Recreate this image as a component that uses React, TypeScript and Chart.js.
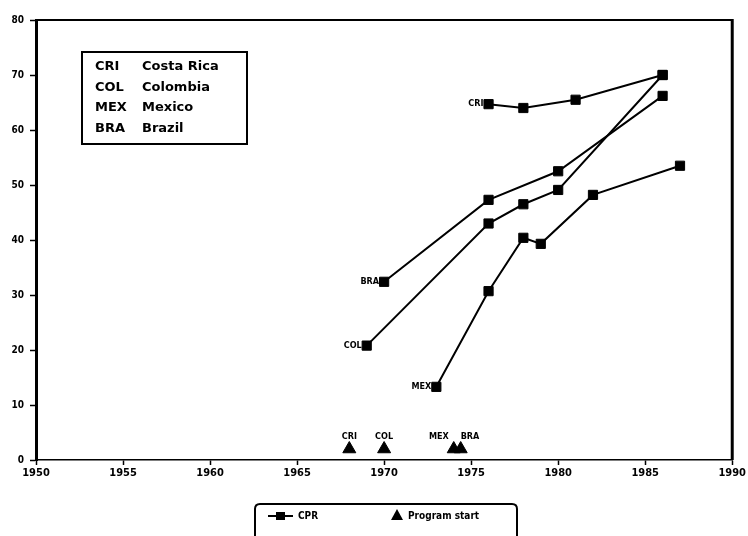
import React, { useEffect, useRef } from "react";
import { Chart, registerables } from "chart.js";

Chart.register(...registerables);

// ---- data ----
const countryCodes = ["CRI", "COL", "MEX", "BRA"];
const countryNames = ["Costa Rica", "Colombia", "Mexico", "Brazil"];

const criYears = [1976, 1978, 1981, 1986];
const criCpr = [64.7, 64.0, 65.5, 70.0];

const colYears = [1969, 1976, 1978, 1980, 1986];
const colCpr = [20.8, 43.0, 46.5, 49.1, 70.0];

const mexYears = [1973, 1976, 1978, 1979, 1982, 1987];
const mexCpr = [13.3, 30.7, 40.4, 39.3, 48.2, 53.5];

const braYears = [1970, 1976, 1980, 1986];
const braCpr = [32.4, 47.3, 52.5, 66.2];

const programCodes = ["CRI", "COL", "MEX", "BRA"];
const programYears = [1968, 1970, 1974, 1974.4];
const programLevel = [2, 2, 2, 2];

const xTicks = [1950, 1955, 1960, 1965, 1970, 1975, 1980, 1985, 1990];
const yTicks = [0, 10, 20, 30, 40, 50, 60, 70, 80];

const FONT = '"DejaVu Sans Condensed", "DejaVu Sans", sans-serif';
const KEYFONT = '"DejaVu Sans", sans-serif';

const toPts = (xs: number[], ys: number[]) => xs.map((x, i) => ({ x, y: ys[i] }));

const seriesList = [
  { code: "CRI", data: toPts(criYears, criCpr) },
  { code: "COL", data: toPts(colYears, colCpr) },
  { code: "MEX", data: toPts(mexYears, mexCpr) },
  { code: "BRA", data: toPts(braYears, braCpr) },
];

const decorPlugin = {
  id: "decor",
  afterDraw(chart: any) {
    const ctx = chart.ctx as CanvasRenderingContext2D;
    const { left, right, top, bottom } = chart.chartArea;
    const xs = chart.scales.x;
    const ys = chart.scales.y;
    ctx.save();
    ctx.strokeStyle = "#000";
    ctx.fillStyle = "#000";
    // top and right frame
    ctx.lineWidth = 2;
    ctx.beginPath();
    ctx.moveTo(left, top);
    ctx.lineTo(right, top);
    ctx.stroke();
    ctx.lineWidth = 3;
    ctx.beginPath();
    ctx.moveTo(right, top - 1);
    ctx.lineTo(right, bottom);
    ctx.stroke();

    // line start labels
    ctx.font = `bold 9px ${FONT}`;
    ctx.textAlign = "right";
    ctx.textBaseline = "middle";
    seriesList.forEach((s) => {
      const p = s.data[0];
      const px = xs.getPixelForValue(p.x);
      const py = ys.getPixelForValue(p.y);
      ctx.fillText(s.code, px - 5, py);
    });

    // program start labels
    ctx.textBaseline = "alphabetic";
    programCodes.forEach((c, i) => {
      const px = xs.getPixelForValue(programYears[i]);
      const py = ys.getPixelForValue(programLevel[i]);
      let align: CanvasTextAlign = "center";
      let dx = 0;
      if (c === "MEX") { align = "right"; dx = -5; }
      if (c === "BRA") { align = "left"; dx = 0; }
      ctx.textAlign = align;
      ctx.fillText(c, px + dx, py - 10);
    });

    // top-left key box
    ctx.lineWidth = 2;
    ctx.strokeRect(82, 52, 165, 92);
    ctx.font = `bold 13px ${KEYFONT}`;
    ctx.textAlign = "left";
    ctx.textBaseline = "middle";
    countryCodes.forEach((c, i) => {
      const y = 67 + i * 20.5;
      ctx.fillText(c, 95, y);
      ctx.fillText(countryNames[i], 142, y);
    });

    // bottom legend box (cut by page bottom)
    ctx.lineWidth = 2;
    const bx = 255, by = 504, bw = 262, r = 5;
    ctx.beginPath();
    ctx.moveTo(bx, 540);
    ctx.lineTo(bx, by + r);
    ctx.quadraticCurveTo(bx, by, bx + r, by);
    ctx.lineTo(bx + bw - r, by);
    ctx.quadraticCurveTo(bx + bw, by, bx + bw, by + r);
    ctx.lineTo(bx + bw, 540);
    ctx.stroke();
    const ly = 516;
    ctx.lineWidth = 2;
    ctx.beginPath();
    ctx.moveTo(268, ly);
    ctx.lineTo(293, ly);
    ctx.stroke();
    ctx.fillRect(276, ly - 4, 9, 8);
    ctx.font = `bold 10px ${FONT}`;
    ctx.fillText("CPR", 298, ly);
    ctx.beginPath();
    ctx.moveTo(397, ly - 7);
    ctx.lineTo(403, ly + 4);
    ctx.lineTo(391, ly + 4);
    ctx.closePath();
    ctx.fill();
    ctx.fillText("Program start", 408, ly);
    ctx.restore();
  },
};

export default function App() {
  const ref = useRef<HTMLCanvasElement | null>(null);
  useEffect(() => {
    if (!ref.current) return;
    const lineSets = seriesList.map((s) => ({
      type: "line" as const,
      label: s.code,
      data: s.data,
      borderColor: "#000",
      backgroundColor: "#000",
      borderWidth: 2,
      pointStyle: "rect" as const,
      pointRadius: 6.5,
      pointBorderWidth: 1,
      pointBackgroundColor: "#000",
      pointBorderColor: "#000",
      tension: 0,
    }));
    const chart = new Chart(ref.current, {
      type: "line",
      data: {
        datasets: [
          ...lineSets,
          {
            type: "scatter" as const,
            label: "Program start",
            data: toPts(programYears, programLevel),
            showLine: false,
            pointStyle: "triangle",
            pointRadius: 7.5,
            pointBackgroundColor: "#000",
            pointBorderColor: "#000",
            backgroundColor: "#000",
            borderColor: "#000",
          } as any,
        ],
      },
      options: {
        responsive: false,
        maintainAspectRatio: false,
        animation: false,
        layout: { padding: { top: 20, right: 14, left: 0, bottom: 52 } },
        plugins: { legend: { display: false }, tooltip: { enabled: false } },
        scales: {
          x: {
            type: "linear",
            min: 1950,
            max: 1990,
            afterBuildTicks: (scale: any) => {
              scale.ticks = xTicks.map((v) => ({ value: v }));
            },
            afterFit: (scale: any) => {
              scale.height = 24;
            },
            ticks: {
              color: "#000",
              font: { family: FONT, size: 11, weight: "bold" },
              padding: 2,
              maxRotation: 0,
              callback: (v: any) => String(v),
            },
            grid: { drawOnChartArea: false, tickLength: 5, tickColor: "#000", tickWidth: 1.5 },
            border: { display: true, color: "#000", width: 1.5 },
          },
          y: {
            type: "linear",
            min: 0,
            max: 80,
            afterBuildTicks: (scale: any) => {
              scale.ticks = yTicks.map((v) => ({ value: v }));
            },
            afterFit: (scale: any) => {
              scale.width = 36;
            },
            ticks: {
              color: "#000",
              font: { family: FONT, size: 10, weight: "bold" },
              padding: 6,
            },
            grid: { drawOnChartArea: false, tickLength: 6, tickColor: "#000", tickWidth: 1.5 },
            border: { display: true, color: "#000", width: 3 },
          },
        },
      },
      plugins: [decorPlugin],
    });
    return () => chart.destroy();
  }, []);
  return (
    <div style={{ position: "fixed", left: 0, top: 0, width: 748, height: 536, background: "#fff" }}>
      <canvas ref={ref} width={748} height={536} style={{ display: "block" }} />
    </div>
  );
}
